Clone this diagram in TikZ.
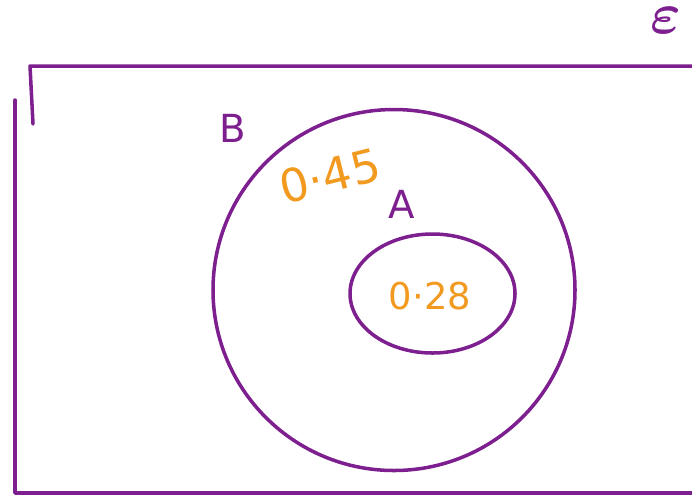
\documentclass[tikz,border=0pt]{standalone}
\usepackage{bm}
\usepackage{fontspec}
\setmainfont{DejaVu Sans}
\definecolor{penpurple}{HTML}{7D1F8E}
\definecolor{penorange}{HTML}{F29A1F}
\begin{document}
\begin{tikzpicture}[x=0.02cm,y=-0.02cm,
        ink/.style={penpurple,line width=2pt,line cap=round,line join=round},
        setlabel/.style={penpurple,font=\fontsize{22}{24}\selectfont},
        prob/.style={penorange,font=\fontsize{21}{24}\selectfont}]
        \useasboundingbox (0,0) rectangle (692,495);
        % frame of the universe, hand drawn in two strokes
        \draw[ink] (33,124) -- (30,66) -- (695,66);
        \draw[ink] (15,100) -- (15,493) -- (695,493);
        \node[setlabel,inner sep=0pt] (univ) at (666,21) {\scalebox{1.6}{$\bm{\varepsilon}$}};
        % the two sets
        \draw[ink] (394,290) circle[x radius=181,y radius=180.5];
        \draw[ink] (432.5,293.5) circle[x radius=82.5,y radius=59.5];
        \node[setlabel] (labB) at (233,128) {B};
        \node[setlabel] (labA) at (402,204) {A};
        \node[prob,font=\fontsize{26}{28}\selectfont,rotate=14] (pB) at (330,176) {0·45};
        \node[prob] (pA) at (430,296) {0·28};
\end{tikzpicture}
\end{document}
